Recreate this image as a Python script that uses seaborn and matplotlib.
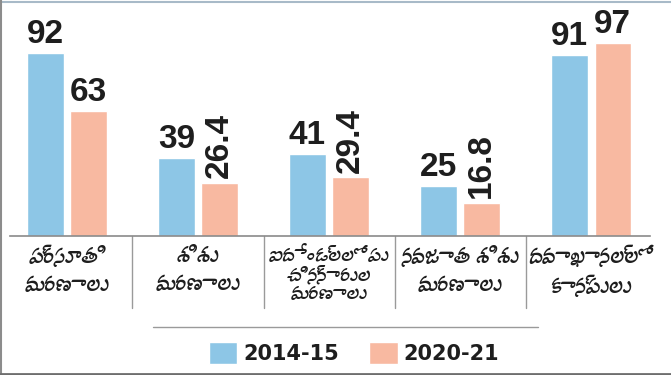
'''
Grouped bar chart: maternal / child health indicators, 2014-15 vs 2020-21
Output: out.png
'''

import numpy as np
import pandas as pd
import seaborn as sns
import matplotlib.pyplot as plt
from matplotlib import font_manager
from matplotlib.lines import Line2D
from fontTools.ttLib import TTFont

# data
categories = ['ప్రసూతి\nమరణాలు', 'శిశు\nమరణాలు', 'ఐదేండ్లలోపు\nచిన్నారుల\nమరణాలు',
              'నవజాత శిశు\nమరణాలు', 'దవాఖానల్లో\nకాన్పులు']
years = ['2014-15', '2020-21']
vals_2014 = [92, 39, 41, 25, 91]
vals_2020 = [63, 26.4, 29.4, 16.8, 97]

BLUE = '#8DC6E6'
SALMON = '#F8B9A1'


def find_font_with(ch):
    # look for any installed family that has a glyph for ch
    names = []
    for f in font_manager.fontManager.ttflist:
        try:
            cmap = TTFont(f.fname, fontNumber=0, lazy=True).getBestCmap()
        except Exception:
            continue
        if cmap and ord(ch) in cmap:
            names.append(f.name)
    return sorted(set(names))


sns.set_theme(style="white")
telugu = find_font_with('మ')
label_family = telugu[:1] + ['DejaVu Sans']
plt.rcParams['font.family'] = ['DejaVu Sans']

df = pd.DataFrame({
    'cat': categories * 2,
    'year': [years[0]] * len(categories) + [years[1]] * len(categories),
    'val': vals_2014 + vals_2020,
})

fig = plt.figure(figsize=(6.71, 3.75), dpi=100)
ax = fig.add_axes([10 / 671, 1 - 236 / 375, 640 / 671, 236 / 375])

sns.barplot(data=df, x='cat', y='val', hue='year', palette=[BLUE, SALMON],
            width=0.66, gap=0.16, ax=ax, saturation=1)

ax.set_xlim(-0.435, 4.45)
ax.set_ylim(0, 118.6)
ax.set_xlabel('')
ax.set_ylabel('')
ax.set_yticks([])
for s in ['top', 'right', 'left']:
    ax.spines[s].set_visible(False)
ax.spines['bottom'].set_color('#8a8a8a')
ax.spines['bottom'].set_linewidth(1.2)

ax.tick_params(axis='x', length=0, pad=8)
ax.set_xticks(range(len(categories)))
ax.set_xticklabels(categories, family=label_family, fontsize=15.5, linespacing=1.45,
                   color='#1e1e1e')
lab3 = ax.get_xticklabels()[2]
lab3.set_linespacing(1.0)
lab3.set_fontsize(14)

# value labels
for cont in ax.containers:
    for rect, v in zip(cont.patches, cont.datavalues):
        xc = rect.get_x() + rect.get_width() / 2
        top = rect.get_height()
        if float(v).is_integer():
            ax.text(xc, top + 1.5, f'{v:g}', ha='center', va='bottom',
                    fontsize=24, fontweight='bold', family='Liberation Sans', color='#1e1e1e')
        else:
            ax.text(xc, top + 2.5, f'{v:g}', ha='center', va='bottom', rotation=90,
                    fontsize=24, fontweight='bold', family='Liberation Sans', color='#1e1e1e')

# category separators
xt = ax.get_xaxis_transform()
for i in range(len(categories) - 1):
    ax.plot([i + 0.5, i + 0.5], [0, -0.305], color='#9a9a9a', lw=1, transform=xt, clip_on=False)

# legend
handles, labels = ax.get_legend_handles_labels()
ax.legend_.remove()
fig.legend(handles, labels, loc='center', bbox_to_anchor=(0.528, 0.059), ncol=2,
           frameon=False, prop={'family': 'DejaVu Sans', 'weight': 'bold', 'size': 15},
           handlelength=1.35, handleheight=1.3, handletextpad=0.3, columnspacing=1.45,
           labelcolor='#1e1e1e')

# line above legend and frame edges
fig.add_artist(Line2D([153 / 671, 538 / 671], [1 - 327 / 375] * 2, color='#9a9a9a', lw=1))
fig.add_artist(Line2D([0, 1], [0.996, 0.996], color='#a8bac8', lw=1.5))
fig.add_artist(Line2D([0.002, 0.002], [0, 1], color='#8c8c8c', lw=1.5))
fig.add_artist(Line2D([0, 1], [0.004, 0.004], color='#6e6e6e', lw=2))

plt.savefig('out.png', dpi=100)
plt.close()
